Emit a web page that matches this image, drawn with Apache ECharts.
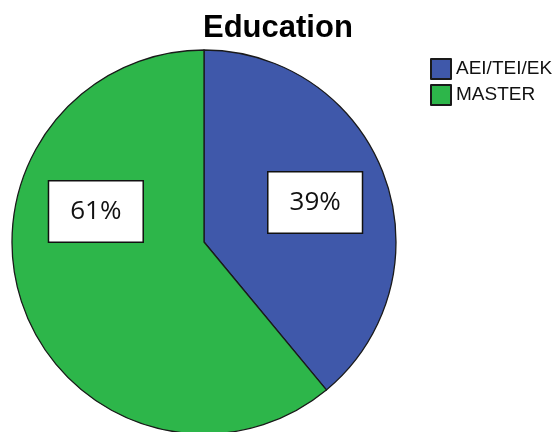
<!DOCTYPE html>
<html>
<head>
<meta charset="utf-8">
<style>
  html, body { margin: 0; padding: 0; background: #fff; }
  #chart { width: 555px; height: 432px; }
</style>
<script src="https://cdn.jsdelivr.net/npm/echarts@6/dist/echarts.min.js"></script>
</head>
<body>
<div id="chart"></div>
<script>
// values
const categories = ["AEI/TEI/EK", "MASTER"];
const shares = [39, 61];
const sliceColors = ["#3f58aa", "#2db64a"];
// nudge of each percent box away from the default inside spot
const labelShift = [[18, -6], [-15, -64]];

const chart = echarts.init(document.getElementById("chart"));

chart.setOption({
  animation: false,
  title: {
    text: "Education",
    left: 198,
    top: 8,
    textStyle: {
      fontFamily: "Liberation Sans",
      fontSize: 31,
      fontWeight: "bold",
      color: "#000",
    },
  },
  legend: {
    orient: "vertical",
    left: 425,
    top: 53,
    itemWidth: 20,
    itemHeight: 20,
    itemGap: 4,
    icon: "rect",
    textStyle: {
      fontFamily: "Liberation Sans",
      fontSize: 19,
      color: "#111",
    },
    data: categories,
  },
  series: [
    {
      type: "pie",
      center: [204, 242],
      radius: 192,
      startAngle: 90,
      clockwise: true,
      percentPrecision: 0,
      itemStyle: { borderColor: "#1a1a1a", borderWidth: 1.3 },
      label: {
        position: "inside",
        formatter: "{d}%",
        fontFamily: "Open Sans",
        fontSize: 26,
        color: "#111",
        backgroundColor: "#fff",
        borderColor: "#111",
        borderWidth: 1.5,
        lineHeight: 26,
        padding: [17, 21],
      },
      labelLayout: (p) => ({
        dx: labelShift[p.dataIndex][0],
        dy: labelShift[p.dataIndex][1],
      }),
      emphasis: { disabled: true },
      data: categories.map((name, i) => ({
        name,
        value: shares[i],
        itemStyle: { color: sliceColors[i] },
      })),
    },
  ],
});
</script>
</body>
</html>
